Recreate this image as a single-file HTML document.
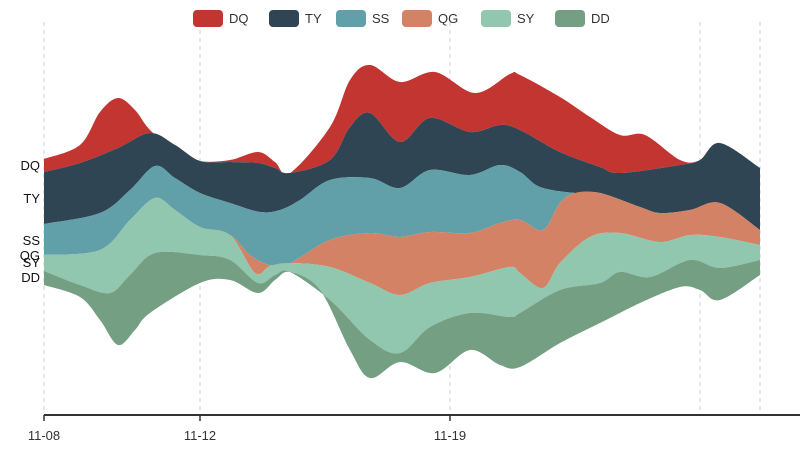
<!DOCTYPE html>
<html><head><meta charset="utf-8"><style>
body{margin:0;background:#fff;}
svg{display:block;font-family:"Liberation Sans",sans-serif;}
</style></head><body>
<svg id="s" width="800" height="452" viewBox="0 0 800 452" xmlns="http://www.w3.org/2000/svg">
<g stroke="#ccc" stroke-dasharray="4,4" stroke-width="1">
<line x1="44" y1="22" x2="44" y2="415"/><line x1="200" y1="22" x2="200" y2="415"/>
<line x1="450" y1="22" x2="450" y2="415"/><line x1="700" y1="22" x2="700" y2="415"/>
<line x1="760" y1="22" x2="760" y2="415"/>
</g>
<g id="layers"></g>
<line x1="44" y1="415" x2="800" y2="415" stroke="#333" stroke-width="2"/>
<g stroke="#333" stroke-width="1.5"><line x1="44" y1="415" x2="44" y2="421"/><line x1="200" y1="415" x2="200" y2="421"/><line x1="450" y1="415" x2="450" y2="421"/></g>
<g font-size="13" fill="#333" text-anchor="middle"><text x="44" y="440">11-08</text><text x="200" y="440">11-12</text><text x="450" y="440">11-19</text></g>
<g font-size="13" fill="#111" text-anchor="end"><text x="40" y="170">DQ</text><text x="40" y="203">TY</text><text x="40" y="245">SS</text><text x="40" y="260">QG</text><text x="40" y="267">SY</text><text x="40" y="282">DD</text></g>
<g font-size="13" fill="#333">
<rect x="193" y="10" width="30" height="17" rx="4" fill="#c23531"/><text x="229" y="23">DQ</text>
<rect x="269" y="10" width="30" height="17" rx="4" fill="#2f4554"/><text x="305" y="23">TY</text>
<rect x="336" y="10" width="30" height="17" rx="4" fill="#61a0a8"/><text x="372" y="23">SS</text>
<rect x="402" y="10" width="30" height="17" rx="4" fill="#d48265"/><text x="438" y="23">QG</text>
<rect x="481" y="10" width="30" height="17" rx="4" fill="#91c7ae"/><text x="517" y="23">SY</text>
<rect x="555" y="10" width="30" height="17" rx="4" fill="#749f83"/><text x="591" y="23">DD</text>
</g>
</svg>
<script>
function P(s){return s.trim().split(/\s*,\s*/).map(function(t){var a=t.split(":");return [+a[0],+a[1]];});}
var B=[
P("44:159,80:145,100:112,118:98,135:110,150:130,175:150,200:161,230:160,258:152,275:162,290:173,330:127,350:80,370:65,400:82,435:72,475:93,510:74,520:75,560:97,590:117,620:135,645:135,680:160,700:160,720:143,760:168"),
P("44:172,80:163,118:148,150:133,175:145,200:161,230:162,258:163,275:168,290:173,330:160,350:127,370:113,400:142,430:118,470:132,500:125,520:130,560:152,600:167,620:173,680:165,700:160,720:143,760:168"),
P("44:224,100:213,130:190,155:166,175:178,200:193,230:203,260:212,280:210,300:200,330:180,370:178,400:188,430:170,470:175,500:165,520:172,540:187,575:193,600:193,640:207,660:213,690:210,720:203,760:230"),
P("44:255,100:250,130:220,155:198,175:210,200:227,230:235,250:255,270:265,290:263,330:240,370:233,400:237,430:232,470:233,500:223,520:220,543:230,560:203,575:193,600:193,640:207,660:213,690:210,720:203,760:230"),
P("44:255,100:250,130:220,155:198,175:210,200:227,230:235,255:273,270:266,290:263,330:267,370:283,400:295,430:283,470:277,510:267,520:273,543:288,560:263,590:237,620:233,660:242,690:235,720:237,760:245"),
P("44:271,80:285,110:293,130:275,155:253,200:255,230:260,258:283,275:275,290:272,330:300,370:340,400:353,430:327,470:313,510:317,520:313,560:290,600:283,620:272,650:277,690:260,720:268,760:260"),
P("44:285,80:297,100:320,118:345,135:330,150:313,200:283,230:280,258:293,275:280,290:272,320:290,350:350,370:378,400:362,435:373,470:350,500:365,520:367,560:343,600:323,640:303,680:287,700:290,720:300,760:275")
];
function cr(p,first){var d=first?"M"+p[0]:"L"+p[0];for(var i=0;i<p.length-1;i++){var p0=p[i-1]||p[i],p1=p[i],p2=p[i+1],p3=p[i+2]||p2;
var c1=[p1[0]+(p2[0]-p0[0])/6,p1[1]+(p2[1]-p0[1])/6],c2=[p2[0]-(p3[0]-p1[0])/6,p2[1]-(p3[1]-p1[1])/6];
d+=" C"+c1+" "+c2+" "+p2;}return d;}
var cols=["#c23531","#2f4554","#61a0a8","#d48265","#91c7ae","#749f83"],h="";
for(var k=0;k<6;k++){var up=B[k],lo=B[k+1].slice().reverse();h+='<path fill="'+cols[k]+'" d="'+cr(up,1)+" "+cr(lo,0)+' Z"/>';}
document.getElementById("layers").innerHTML=h;
</script>
</body></html>
